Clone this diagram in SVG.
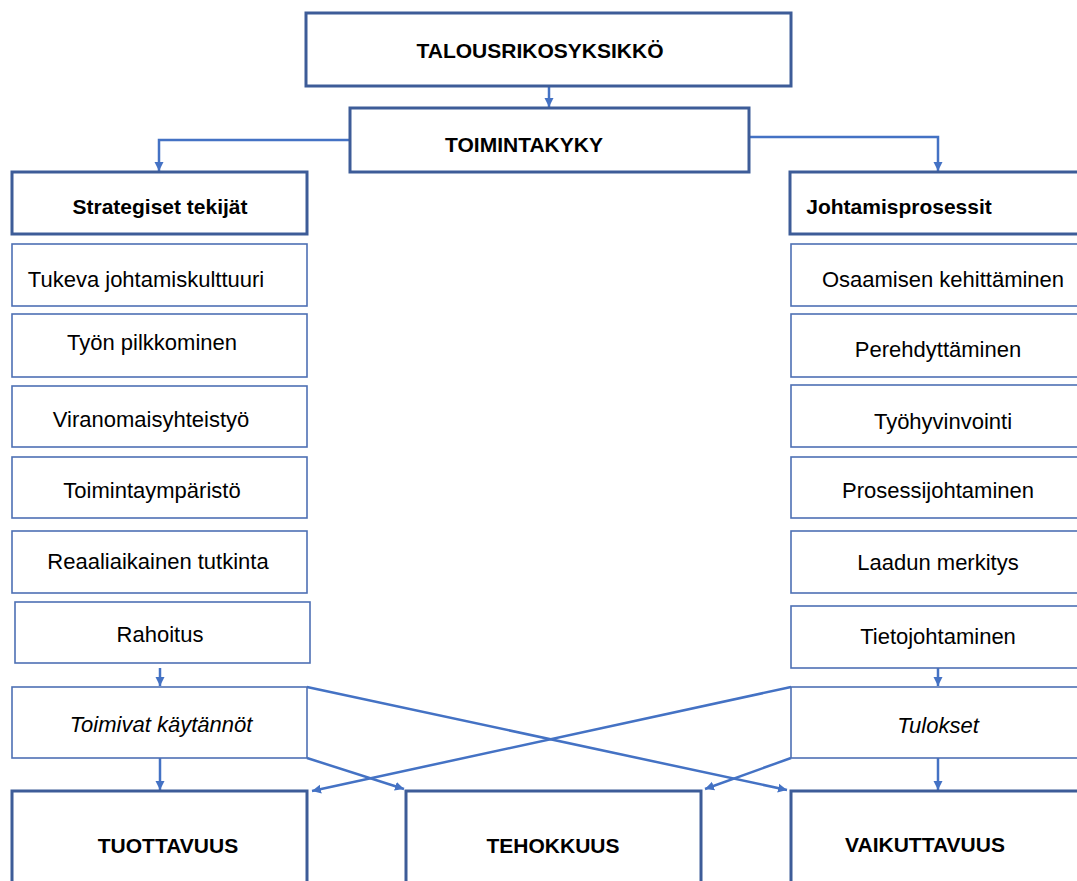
<svg xmlns="http://www.w3.org/2000/svg" width="1077" height="881" viewBox="0 0 1077 881">
<style>
.bg{fill:#ffffff}
.thick{fill:#ffffff;stroke:#3d5c98;stroke-width:3}
.thin{fill:#ffffff;stroke:#4e70b4;stroke-width:1.6}
.conn{fill:none;stroke:#4472c4;stroke-width:2.5}
text{font-family:"Liberation Sans",Arial,sans-serif;fill:#000000;text-anchor:middle}
.h{font-weight:bold;font-size:21px}
.t{font-size:22px}
.i{font-size:22px;font-style:italic}
</style>
<defs>
<marker id="arr" markerUnits="userSpaceOnUse" markerWidth="10" markerHeight="10" refX="9" refY="5" orient="auto">
<path d="M0,0.5 L9,5 L0,9.5 Z" fill="#4472c4"/>
</marker>
</defs>
<rect class="bg" x="0" y="0" width="1077" height="881"/>
<g id="connectors">
<path class="conn" d="M549,87 V107" marker-end="url(#arr)"/>
<path class="conn" d="M350,140 H159 V171" marker-end="url(#arr)"/>
<path class="conn" d="M749,137 H938 V171" marker-end="url(#arr)"/>
<path class="conn" d="M160,668 V686" marker-end="url(#arr)"/>
<path class="conn" d="M160,758 V790" marker-end="url(#arr)"/>
<path class="conn" d="M938,668 V686" marker-end="url(#arr)"/>
<path class="conn" d="M938,758 V790" marker-end="url(#arr)"/>
<path class="conn" d="M307,687 L787,790" marker-end="url(#arr)"/>
<path class="conn" d="M307,758 L404,789" marker-end="url(#arr)"/>
<path class="conn" d="M791,687 L312,791" marker-end="url(#arr)"/>
<path class="conn" d="M791,758 L705,789" marker-end="url(#arr)"/>
</g>
<g id="talousrikosyksikko"><rect class="thick" x="306" y="13" width="485" height="73"/><text class="h" x="540" y="58">TALOUSRIKOSYKSIKKÖ</text></g>
<g id="toimintakyky"><rect class="thick" x="350" y="108" width="399" height="64"/><text class="h" x="524" y="152">TOIMINTAKYKY</text></g>
<g id="strategiset"><rect class="thick" x="12" y="172" width="295" height="62"/><text class="h" x="160" y="214">Strategiset tekijät</text></g>
<g id="johtamisprosessit"><rect class="thick" x="790" y="172" width="300" height="62"/><text class="h" x="899" y="214">Johtamisprosessit</text></g>
<g id="tukeva"><rect class="thin" x="12" y="244" width="295" height="62"/><text class="t" x="146" y="287">Tukeva johtamiskulttuuri</text></g>
<g id="tyon-pilkkominen"><rect class="thin" x="12" y="314" width="295" height="63"/><text class="t" x="152" y="350">Työn pilkkominen</text></g>
<g id="viranomaisyhteistyo"><rect class="thin" x="12" y="386" width="295" height="61"/><text class="t" x="151" y="427">Viranomaisyhteistyö</text></g>
<g id="toimintaymparisto"><rect class="thin" x="12" y="457" width="295" height="61"/><text class="t" x="152" y="498">Toimintaympäristö</text></g>
<g id="reaaliaikainen"><rect class="thin" x="12" y="531" width="295" height="62"/><text class="t" x="158" y="569">Reaaliaikainen tutkinta</text></g>
<g id="rahoitus"><rect class="thin" x="15" y="602" width="295" height="61"/><text class="t" x="160" y="642">Rahoitus</text></g>
<g id="toimivat"><rect class="thin" x="12" y="687" width="295" height="71"/><text class="i" x="161" y="732">Toimivat käytännöt</text></g>
<g id="osaamisen"><rect class="thin" x="791" y="244" width="300" height="62"/><text class="t" x="943" y="287">Osaamisen kehittäminen</text></g>
<g id="perehdyttaminen"><rect class="thin" x="791" y="314" width="300" height="63"/><text class="t" x="938" y="357">Perehdyttäminen</text></g>
<g id="tyohyvinvointi"><rect class="thin" x="791" y="385" width="300" height="62"/><text class="t" x="943" y="429">Työhyvinvointi</text></g>
<g id="prosessijohtaminen"><rect class="thin" x="791" y="457" width="300" height="61"/><text class="t" x="938" y="498">Prosessijohtaminen</text></g>
<g id="laadun"><rect class="thin" x="791" y="531" width="300" height="62"/><text class="t" x="938" y="570">Laadun merkitys</text></g>
<g id="tietojohtaminen"><rect class="thin" x="791" y="606" width="300" height="62"/><text class="t" x="938" y="644">Tietojohtaminen</text></g>
<g id="tulokset"><rect class="thin" x="791" y="687" width="300" height="71"/><text class="i" x="938" y="733">Tulokset</text></g>
<g id="tuottavuus"><rect class="thick" x="12" y="791" width="295" height="110"/><text class="h" x="168" y="853">TUOTTAVUUS</text></g>
<g id="tehokkuus"><rect class="thick" x="406" y="791" width="295" height="110"/><text class="h" x="553" y="853">TEHOKKUUS</text></g>
<g id="vaikuttavuus"><rect class="thick" x="791" y="791" width="300" height="110"/><text class="h" x="925" y="852">VAIKUTTAVUUS</text></g>
</svg>
